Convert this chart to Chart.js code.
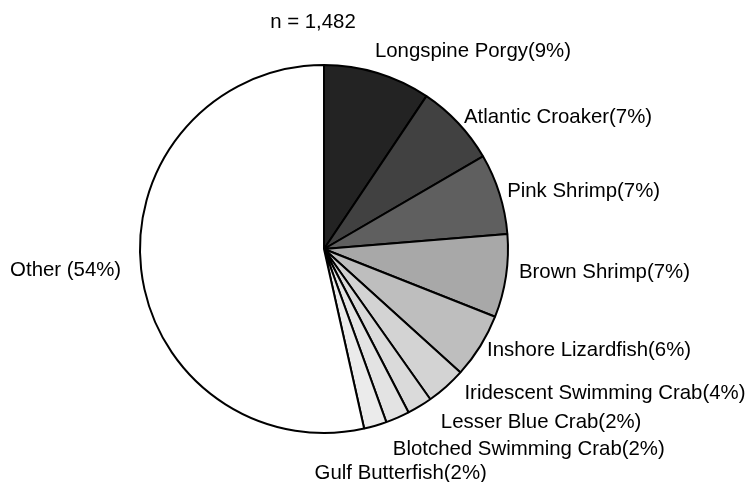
<!DOCTYPE html>
<html>
<head>
<meta charset="utf-8">
<script src="https://cdn.jsdelivr.net/npm/chart.js@4/dist/chart.umd.min.js"></script>
<style>
  html, body { margin: 0; padding: 0; background: #fff; }
  #wrap { width: 749px; height: 482px; position: relative; }
</style>
</head>
<body>
<div id="wrap"><canvas id="c" width="749" height="482"></canvas></div>
<script>
// ---- data ----
const categories = ["Longspine Porgy", "Atlantic Croaker", "Pink Shrimp", "Brown Shrimp",
  "Inshore Lizardfish", "Iridescent Swimming Crab", "Lesser Blue Crab",
  "Blotched Swimming Crab", "Gulf Butterfish", "Other"];
const values = [9.4, 7.2, 7.1, 7.3, 5.7, 3.5, 2.2, 2.1, 2.0, 53.5];
const percentLabels = ["9%", "7%", "7%", "7%", "6%", "4%", "2%", "2%", "2%", "54%"];
const sampleSize = "n = 1,482";

// ---- styles ----
const sliceColors = ["#232323", "#414141", "#5f5f5f", "#a8a8a8", "#bebebe",
  "#d3d3d3", "#dadada", "#e3e3e3", "#ebebeb", "#ffffff"];
const labelNudges = [[-5,-14],[0,0],[0,0],[5,-5],[0,0],[13,1],[17,9],[-8,24],[-63,40],[-12,0]];
const FONT = '20.4px "Liberation Sans", Arial, sans-serif';

const labelPlugin = {
  id: 'outerLabels',
  afterDraw(chart) {
    const ctx = chart.ctx;
    const meta = chart.getDatasetMeta(0);
    ctx.save();
    ctx.font = FONT;
    ctx.fillStyle = '#000';
    ctx.textBaseline = 'middle';
    let cx0 = 0, cy0 = 0, r0 = 0;
    meta.data.forEach((arc, i) => {
      const p = arc.getProps(['x', 'y', 'startAngle', 'endAngle', 'outerRadius'], true);
      cx0 = p.x; cy0 = p.y; r0 = p.outerRadius;
      const mid = (p.startAngle + p.endAngle) / 2;
      const rr = p.outerRadius + 8;
      let x = p.x + Math.cos(mid) * rr + labelNudges[i][0];
      let y = p.y + Math.sin(mid) * rr + labelNudges[i][1];
      const left = Math.cos(mid) < -0.05;
      ctx.textAlign = left ? 'right' : 'left';
      const sep = categories[i] === 'Other' ? ' ' : '';
      ctx.fillText(categories[i] + sep + '(' + percentLabels[i] + ')', x, y);
    });
    ctx.textAlign = 'center';
    ctx.fillText(sampleSize, cx0 - 11, cy0 - r0 - 43);
    ctx.restore();
  }
};

new Chart(document.getElementById('c'), {
  type: 'pie',
  data: {
    labels: categories,
    datasets: [{
      data: values,
      backgroundColor: sliceColors,
      borderColor: '#000',
      borderWidth: 2,
      hoverOffset: 0,
      offset: 0
    }]
  },
  options: {
    responsive: false,
    animation: false,
    events: [],
    radius: 184,
    layout: { padding: { left: 140, right: 241, top: 65, bottom: 49 } },
    plugins: {
      legend: { display: false },
      tooltip: { enabled: false },
      title: { display: false }
    }
  },
  plugins: [labelPlugin]
});
</script>
</body>
</html>
